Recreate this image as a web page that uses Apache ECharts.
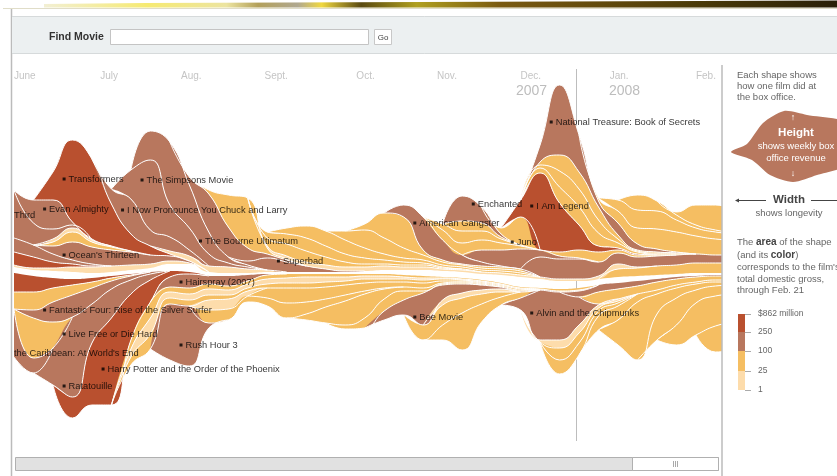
<!DOCTYPE html>
<html>
<head>
<meta charset="utf-8">
<style>
  html, body { margin: 0; padding: 0; background: #fff; }
  #chart { width: 837px; height: 476px; }
</style>
<script src="https://cdn.jsdelivr.net/npm/echarts@6/dist/echarts.min.js"></script>
</head>
<body>
<div id="chart"></div>
<script>
const FONT = '"Liberation Sans", Arial, sans-serif'
const RED = '#b9502f', BROWN = '#b8775e', GOLD = '#f5be62', PALE = '#fddcab'

// weekly box office weeks
const weeks = [
  '2007-06-01', '2007-06-08', '2007-06-15', '2007-06-22', '2007-06-29',
  '2007-07-06', '2007-07-13', '2007-07-20', '2007-07-27',
  '2007-08-03', '2007-08-10', '2007-08-17', '2007-08-24', '2007-08-31',
  '2007-09-07', '2007-09-14', '2007-09-21', '2007-09-28',
  '2007-10-05', '2007-10-12', '2007-10-19', '2007-10-26',
  '2007-11-02', '2007-11-09', '2007-11-16', '2007-11-23', '2007-11-30',
  '2007-12-07', '2007-12-14', '2007-12-21', '2007-12-28',
  '2008-01-04', '2008-01-11', '2008-01-18', '2008-01-25',
  '2008-02-01', '2008-02-08', '2008-02-15'
]
const monthTicks = ['2007-06-01', '2007-07-02', '2007-07-31', '2007-08-30', '2007-10-02', '2007-10-31', '2007-11-30', '2008-01-01', '2008-02-01']
const monthNames = ['June', 'July', 'Aug.', 'Sept.', 'Oct.', 'Nov.', 'Dec.', 'Jan.', 'Feb.']

// pad a film's weekly heights out to the full run of weeks
const at = (start, vals) => weeks.map((w, i) => (i >= start && i < start + vals.length ? vals[i - start] : null))

// white seam in the middle of the stream
const seamUpper = [209, 206, 205, 204, 203, 204, 206, 208, 212, 212, 204, 203, 203, 204, 204, 204, 204, 204, 205, 206, 206, 206, 205, 204, 202, 201, 199, 197, 195, 195, 197, 199, 200, 201, 202, 203, 203, 203]
const seamLower = [273, 276, 278, 279, 278, 276, 274, 272, 271, 272, 276, 276, 275, 274, 274, 274, 274, 274, 274, 274, 275, 276, 277, 278, 280, 283, 287, 288, 289, 288, 285, 283, 281, 279, 277, 276, 275, 275]

// upper half, inner to outer
const paleSummer = at(0, [2, 2, 3, 5, 6, 6, 5, 4, 3, 1, 0])
const redSpring = at(0, [13, 11, 6, 3, 1, 0])
const knockedUp = at(0, [14, 12, 8, 4, 2, 0])
const oceans = at(1, [0, 8, 18, 17, 16, 13, 9, 5, 2, 0])
const goldJune = at(1, [0, 4, 10, 5, 3, 1, 0])
const paleJune = at(1, [0, 3, 4, 2, 1, 0])
const shrekThird = at(0, [48, 22, 10, 3, 0])
const evan = at(0, [0, 23, 29, 3, 1, 0])
const transformers = at(1, [0, 28, 82, 80, 42, 17, 9, 2, 0])
const paleAug = at(7, [0, 3, 5, 6, 6, 4, 2, 0])
const chuckBrown = at(4, [0, 15, 35, 16, 14, 6, 0])
const julyBrown = at(5, [0, 29, 70, 32, 22, 12, 4, 2, 0])
const simpsons = at(6, [0, 29, 63, 43, 22, 6, 2, 0])
const superbad = at(11, [0, 4, 12, 10, 6, 3, 1, 0])
const bourne = at(8, [0, 8, 38, 30, 13, 4, 2, 0])
const chuckGold = at(9, [0, 4, 32, 50, 6, 1, 0])
const rightInner = at(30, [0, 8, 8, 9, 9, 10, 10, 10])
const fall1 = at(12, [0, 2, 3, 4, 4, 4, 4, 4, 3, 3, 2, 2, 2, 2, 2, 2, 2, 2, 3, 5, 1, 0])
const fall2 = at(12, [0, 8, 12, 11, 8, 5, 3, 2, 2, 2, 1, 1, 0])
const fall3 = at(12, [0, 6, 10, 13, 11, 8, 6, 4, 3, 2, 1, 0])
const fall4 = at(13, [0, 6, 12, 15, 14, 10, 6, 4, 3, 2, 2, 2, 2, 2, 0])
const fall5 = at(16, [0, 9, 18, 16, 10, 5, 3, 2, 2, 2, 2, 0])
const fall6 = at(17, [0, 6, 25, 31, 5, 2, 1, 2, 2, 2, 0])
const gangster = at(19, [0, 12, 33, 20, 9, 4, 1, 0])
const winterBrown = at(26, [0, 20, 20, 20, 14, 11, 10, 10, 10, 9, 8, 8])
const beowulf = at(23, [0, 12, 16, 20, 7, 3, 1, 0])
const goldUnder = at(27, [0, 4, 8, 10, 3, 2, 1, 0])
const nov1 = at(21, [0, 10, 12, 10, 7, 3, 0])
const nov2 = at(21, [0, 6, 12, 9, 4, 1, 0])
const nov3 = at(22, [0, 10, 8, 2, 0])
const enchanted = at(22, [0, 25, 16, 3, 0])
const juno = at(24, [0, 6, 28, 0])
const iAmLegend = at(25, [0, 17, 77, 49, 25, 6, 2, 1, 0])
const dec1 = at(26, [0, 5, 16, 18, 13, 5, 2, 1, 1, 0])
const dec2 = at(26, [0, 3, 16, 18, 13, 4, 1, 1, 1, 0])
const dec3 = at(26, [0, 3, 16, 17, 13, 4, 1, 1, 0])
const nationalTreasure = at(26, [0, 17, 70, 37, 6, 12, 6, 3, 1, 0])
const jan1 = at(29, [0, 3, 12, 16, 20, 20, 18, 16, 15])
const jan2 = at(30, [0, 11, 18, 18, 12, 8, 7, 6])
const jan3 = at(31, [0, 15, 10, 5, 3, 2, 1])
const feb1 = at(33, [0, 3, 20, 25, 23])

// lower half, inner to outer
const lowRed = at(0, [19, 16, 10, 6, 4, 2, 1, 0])
const lowGold = at(0, [17, 18, 14, 10, 6, 3, 1, 0])
const fantasticFour = at(0, [0, 8, 20, 22, 16, 8, 4, 2, 0])
const goldEarly = at(0, [0, 40, 26, 0])
const pirates = at(0, [48, 15, 0])
const ratatouille = at(1, [0, 37, 80, 39, 29, 14, 6, 0])
const harryPotter = at(2, [0, 21, 62, 87, 46, 22, 6, 2, 0])
const hairspray = at(7, [0, 10, 14, 8, 10, 6, 1, 0])
const thin1 = at(5, [0, 9, 16, 5, 6, 5, 4, 3, 4, 4, 3, 3, 3, 2, 2, 2, 2, 1, 1, 1, 1, 1, 1, 2, 2, 0])
const thin2 = at(5, [0, 8, 16, 6, 6, 6, 5, 4, 5, 5, 6, 5, 4, 3, 3, 2, 2, 1, 1, 1, 1, 1, 1, 1, 1, 0])
const thin3 = at(5, [0, 8, 15, 6, 6, 5, 4, 3, 4, 5, 5, 5, 4, 4, 3, 3, 3, 2, 1, 1, 1, 1, 0])
const paleLate = at(9, [0, 10, 10, 5, 0])
const autumn1 = at(12, [0, 10, 15, 14, 12, 10, 8, 6, 5, 5, 2, 1, 1, 1, 1, 0])
const autumn2 = at(9, [0, 13, 11, 6, 8, 15, 12, 8, 6, 3, 1, 0])
const rushHour = at(7, [0, 56, 60, 5, 0])
const autumn3 = at(14, [0, 6, 16, 24, 24, 10, 4, 3, 1, 1, 1, 0])
const autumn4 = at(16, [0, 4, 10, 12, 9, 2, 1, 1, 0])
const beeMovie = at(18, [0, 9, 15, 32, 15, 9, 5, 2, 1, 0])
const paleNov = at(21, [0, 5, 5, 4, 3, 0])
const nov4 = at(20, [0, 15, 20, 15, 10, 5, 0])
const nov5 = at(21, [0, 15, 37, 18, 8, 6, 0])
const lowBrown = at(28, [0, 6, 7, 6, 5, 3, 2, 1, 1, 1])
const jan4 = at(29, [0, 12, 10, 8, 8, 6, 5, 4, 4])
const alvin = at(25, [0, 12, 50, 48, 28, 1, 0])
const paleDec = at(26, [0, 2, 8, 8, 3, 2, 0])
const dec4 = at(27, [0, 12, 10, 3, 2, 0])
const dec5 = at(27, [0, 14, 12, 5, 3, 0])
const jan5 = at(29, [0, 14, 14, 8, 4, 3, 2, 2, 2])
const jan6 = at(30, [0, 25, 58, 20, 10, 6, 4, 3])
const jan7 = at(32, [0, 26, 27, 13, 10, 9])
const feb2 = at(33, [0, 20, 32, 30, 28])
const feb3 = at(35, [0, 26, 28])

const upperFilms = [
  [paleSummer, PALE], [redSpring, RED], [knockedUp, BROWN], [oceans, BROWN], [goldJune, GOLD], [paleJune, PALE],
  [shrekThird, BROWN], [evan, BROWN], [transformers, RED], [paleAug, PALE], [chuckBrown, BROWN], [julyBrown, BROWN],
  [simpsons, BROWN], [superbad, BROWN], [bourne, BROWN], [chuckGold, GOLD], [rightInner, GOLD], [fall1, PALE],
  [fall2, GOLD], [fall3, GOLD], [fall4, GOLD], [fall5, GOLD], [fall6, GOLD], [gangster, BROWN], [winterBrown, BROWN],
  [beowulf, BROWN], [goldUnder, GOLD], [nov1, GOLD], [nov2, GOLD], [nov3, GOLD], [enchanted, BROWN], [juno, GOLD],
  [iAmLegend, RED], [dec1, GOLD], [dec2, GOLD], [dec3, GOLD], [nationalTreasure, BROWN], [jan1, GOLD], [jan2, GOLD],
  [jan3, GOLD], [feb1, GOLD]
]
const lowerFilms = [
  [lowRed, RED], [lowGold, GOLD], [fantasticFour, BROWN], [goldEarly, GOLD], [pirates, BROWN], [ratatouille, BROWN],
  [harryPotter, RED], [hairspray, BROWN], [thin1, GOLD], [thin2, PALE], [thin3, GOLD], [paleLate, PALE], [autumn1, GOLD],
  [autumn2, GOLD], [rushHour, BROWN], [autumn3, GOLD], [autumn4, GOLD], [beeMovie, BROWN], [paleNov, PALE], [nov4, GOLD],
  [nov5, GOLD], [lowBrown, BROWN], [jan4, GOLD], [alvin, BROWN], [paleDec, PALE], [dec4, GOLD], [dec5, GOLD], [jan5, GOLD],
  [jan6, GOLD], [jan7, GOLD], [feb2, GOLD], [feb3, GOLD]
]

// film name labels: name, date, vertical position
const filmLabels = [
  ['Transformers', '2007-06-19', 179], ['The Simpsons Movie', '2007-07-17', 180], ['Evan Almighty', '2007-06-12', 209],
  ['I Now Pronounce You Chuck and Larry', '2007-07-10', 210], ['The Bourne Ultimatum', '2007-08-07', 241],
  ["Ocean's Thirteen", '2007-06-19', 255], ['Superbad', '2007-09-04', 261], ['Hairspray (2007)', '2007-07-31', 282],
  ['Fantastic Four: Rise of the Silver Surfer', '2007-06-12', 310], ['Live Free or Die Hard', '2007-06-19', 334],
  ['Rush Hour 3', '2007-07-31', 345], ['Harry Potter and the Order of the Phoenix', '2007-07-03', 369],
  ['Ratatouille', '2007-06-19', 386], ['Bee Movie', '2007-10-23', 317], ['American Gangster', '2007-10-23', 223],
  ['Enchanted', '2007-11-13', 204], ['I Am Legend', '2007-12-04', 206], ['Juno', '2007-11-27', 242],
  ['National Treasure: Book of Secrets', '2007-12-11', 122], ['Alvin and the Chipmunks', '2007-12-04', 313]
]
const cutLabels = [['Third', '2007-06-01', 215], ['Knocked Up', '2007-05-31', 234], ["the Caribbean: At World's End", '2007-06-01', 353]]

const legendLabels = ['$862 million', '250', '100', '25', '1']
const legendColors = [RED, BROWN, GOLD, PALE]

const chart = echarts.init(document.getElementById('chart'), null, { renderer: 'canvas' })

function filmSeries (data, color, stack, yAxisIndex) {
  return {
    type: 'line',
    stack,
    yAxisIndex,
    smooth: 0.5,
    showSymbol: false,
    silent: true,
    lineStyle: { color: '#fff', width: 1 },
    areaStyle: { color, opacity: 1 },
    data: weeks.map((w, i) => [w, data[i]])
  }
}

function labelSeries (rows, size) {
  return {
    type: 'scatter',
    yAxisIndex: 1,
    z: 10,
    symbol: 'rect',
    symbolSize: size,
    itemStyle: { color: '#000' },
    silent: true,
    label: {
      show: true,
      position: 'right',
      distance: size ? 3 : 0,
      color: '#000',
      fontFamily: FONT,
      fontSize: 9.3,
      formatter: p => p.data[2]
    },
    data: rows.map(r => [r[1], r[2], r[0]])
  }
}

const text = (x, y, t, o = {}) => ({
  type: 'text',
  x,
  y,
  z: 20,
  style: Object.assign({ text: t, fill: '#555', fontFamily: FONT, fontSize: 9.5, textVerticalAlign: 'middle', textAlign: 'left' }, o)
})
const box = (x, y, width, height, fill, stroke, z = 19) => ({
  type: 'rect',
  z,
  shape: { x, y, width, height },
  style: { fill, stroke: stroke || null, lineWidth: 1 }
})
const rule = (x1, y1, x2, y2, stroke, lineWidth = 1) => ({
  type: 'line',
  z: 19,
  shape: { x1, y1, x2, y2 },
  style: { stroke, lineWidth }
})

const legendTicks = [314, 332, 351, 371, 390]
const legendGraphics = []
legendColors.forEach((c, i) => {
  legendGraphics.push(box(738, legendTicks[i], 7, legendTicks[i + 1] - legendTicks[i], c))
})
legendLabels.forEach((l, i) => {
  legendGraphics.push(rule(745, legendTicks[i] + 0.5, 751, legendTicks[i] + 0.5, '#aaa'))
  legendGraphics.push(text(758, legendTicks[i], l, { fontSize: 8.5, fill: '#666' }))
})

const option = {
  animation: false,
  backgroundColor: '#fff',
  grid: { left: 14, right: 116, top: 0, bottom: 0 },
  xAxis: {
    type: 'time',
    min: +new Date('2007-06-01'),
    max: +new Date('2008-02-10'),
    axisLine: { show: false },
    axisTick: { show: false },
    splitLine: { show: false },
    axisLabel: { show: false }
  },
  yAxis: [
    { type: 'value', min: 0, max: 476, show: false },
    { type: 'value', min: 0, max: 476, inverse: true, show: false }
  ],
  series: [
    {
      type: 'line',
      stack: 'upper',
      yAxisIndex: 0,
      showSymbol: false,
      smooth: 0.5,
      silent: true,
      lineStyle: { opacity: 0 },
      data: weeks.map((w, i) => [w, seamUpper[i]])
    },
    {
      type: 'line',
      stack: 'lower',
      yAxisIndex: 1,
      z: 1,
      showSymbol: false,
      smooth: 0.5,
      silent: true,
      lineStyle: { opacity: 0 },
      data: weeks.map((w, i) => [w, seamLower[i]]),
      markLine: {
        z: 1,
        silent: true,
        symbol: 'none',
        label: { show: false },
        lineStyle: { color: '#bdbdbd', width: 1, type: 'solid' },
        data: [[{ xAxis: '2007-12-20', yAxis: 69 }, { xAxis: '2007-12-20', yAxis: 441 }]]
      }
    },
    ...upperFilms.map(f => filmSeries(f[0], f[1], 'upper', 0)),
    ...lowerFilms.map(f => filmSeries(f[0], f[1], 'lower', 1)),
    labelSeries(filmLabels, 3),
    labelSeries(cutLabels, 0),
    {
      // month names along the top, placed by the time axis
      type: 'scatter',
      yAxisIndex: 1,
      symbolSize: 0,
      silent: true,
      label: {
        show: true,
        position: 'right',
        distance: 0,
        color: '#b5b5b5',
        fontFamily: FONT,
        fontSize: 10,
        formatter: p => monthNames[p.dataIndex]
      },
      data: monthTicks.map(d => [d, 76])
    }
  ],
  graphic: [
    // top strip and page frame
    {
      type: 'polygon',
      z: 19,
      shape: { points: [[44, 4], [145, 3], [837, 0.5], [837, 7.5], [44, 7.5]] },
      style: {
        fill: new echarts.graphic.LinearGradient(0, 0, 1, 0, [
          { offset: 0, color: '#f2efd4' },
          { offset: 0.13, color: '#f6ea72' },
          { offset: 0.23, color: '#ece4a0' },
          { offset: 0.27, color: '#b3a05a' },
          { offset: 0.32, color: '#b0a890' },
          { offset: 0.35, color: '#f0d840' },
          { offset: 0.4, color: '#5a4a10' },
          { offset: 0.47, color: '#b0a020' },
          { offset: 0.575, color: '#7a5a10' },
          { offset: 0.83, color: '#4a3a08' },
          { offset: 1, color: '#2a2008' }
        ])
      }
    },
    box(3, 8, 834, 1, '#e0ddc8'),
    box(0, 9, 14, 467, '#fff', null, 18),
    rule(11.5, 9, 11.5, 476, '#bbb', 1.5),

    // search bar
    box(12, 16, 825, 38, '#ecf0f1'),
    rule(12, 16.5, 837, 16.5, '#d6dadb'),
    rule(12, 53.5, 837, 53.5, '#d6dadb'),
    text(49, 37, 'Find Movie', { fontWeight: 'bold', fontSize: 10.5, fill: '#333' }),
    box(110.5, 29.5, 258, 15, '#fff', '#c4c4c4'),
    box(374.5, 29.5, 17, 15, '#fff', '#c8c8c8'),
    text(383, 37.5, 'Go', { fontSize: 8, fill: '#444', textAlign: 'center' }),

    // year marks under the months
    text(516, 91, '2007', { fontSize: 14, fill: '#bdbdbd' }),
    text(609, 91, '2008', { fontSize: 14, fill: '#bdbdbd' }),

    // right column
    rule(722, 65, 722, 476, '#bbb', 1.5),
    text(737, 75, 'Each shape shows', { fill: '#666' }),
    text(737, 86, 'how one film did at', { fill: '#666' }),
    text(737, 97, 'the box office.', { fill: '#666' }),
    {
      type: 'polygon',
      z: 19,
      shape: {
        smooth: 0.25,
        points: [[731, 152], [747, 144], [763, 123], [784, 111], [807, 115], [850, 124], [850, 163], [817, 175], [793, 182], [770, 175], [752, 160]]
      },
      style: { fill: BROWN }
    },
    text(793, 118, '↑', { fill: '#fff', fontSize: 9, textAlign: 'center' }),
    text(796, 133, 'Height', { fill: '#fff', fontWeight: 'bold', fontSize: 11.5, textAlign: 'center' }),
    text(796, 146, 'shows weekly box', { fill: '#fff', textAlign: 'center' }),
    text(796, 158, 'office revenue', { fill: '#fff', textAlign: 'center' }),
    text(793, 174, '↓', { fill: '#fff', fontSize: 9, textAlign: 'center' }),
    rule(738, 200.5, 766, 200.5, '#444'),
    { type: 'polygon', z: 19, shape: { points: [[735, 200.5], [739, 198.5], [739, 202.5]] }, style: { fill: '#444' } },
    rule(811, 200.5, 837, 200.5, '#444'),
    text(789, 200, 'Width', { fontWeight: 'bold', fontSize: 11.5, fill: '#444', textAlign: 'center' }),
    text(789, 213, 'shows longevity', { fill: '#666', textAlign: 'center' }),
    text(737, 242, 'The {b|area} of the shape', { fill: '#666', rich: { b: { fontWeight: 'bold', fontSize: 10, fill: '#444', fontFamily: FONT } } }),
    text(737, 255, '(and its {b|color})', { fill: '#666', rich: { b: { fontWeight: 'bold', fontSize: 10, fill: '#444', fontFamily: FONT } } }),
    text(737, 267, "corresponds to the film's", { fill: '#666' }),
    text(737, 279, 'total domestic gross,', { fill: '#666' }),
    text(737, 290, 'through Feb. 21', { fill: '#666' }),
    ...legendGraphics,

    // scroll bar
    box(15.5, 457.5, 703, 13, '#e1e1e1', '#b0b0b0'),
    box(632.5, 457.5, 86, 13, '#fff', '#b0b0b0'),
    rule(673.5, 461, 673.5, 467, '#aaa'),
    rule(675.5, 461, 675.5, 467, '#aaa'),
    rule(677.5, 461, 677.5, 467, '#aaa')
  ]
}

chart.setOption(option)
</script>
</body>
</html>
